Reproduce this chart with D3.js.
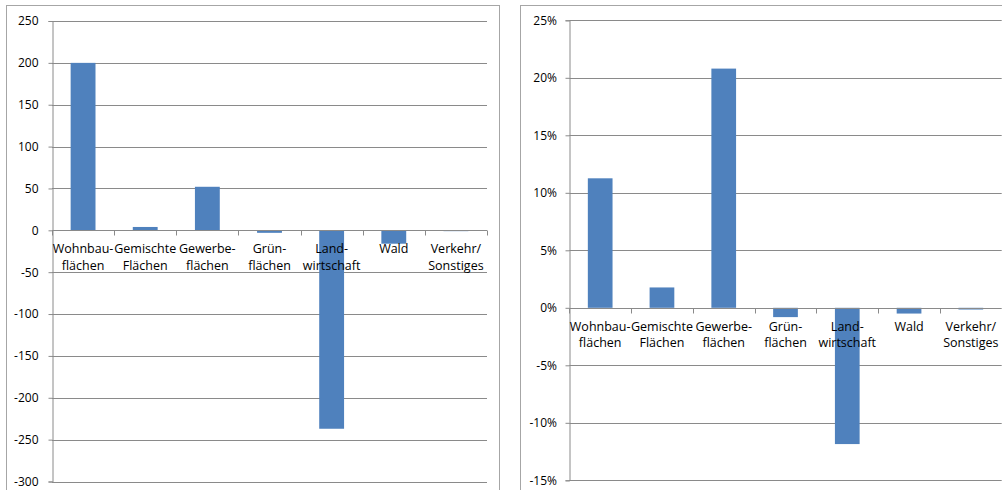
<!DOCTYPE html>
<html>
<head>
<meta charset="utf-8">
<script src="https://cdn.jsdelivr.net/npm/d3@7"></script>
<style>
  html, body { margin: 0; padding: 0; background: #fff; }
  svg { display: block; }
  text { font-family: "Open Sans", "Liberation Sans", sans-serif; font-size: 12px; fill: #000; }
</style>
</head>
<body>
<svg id="chart" width="1002" height="490"></svg>
<script>
// ---- data ----
const categories = [
  ["Wohnbau-", "flächen"],
  ["Gemischte", "Flächen"],
  ["Gewerbe-", "flächen"],
  ["Grün-", "flächen"],
  ["Land-", "wirtschaft"],
  ["Wald"],
  ["Verkehr/", "Sonstiges"]
];
const absoluteValues = [200, 4, 52, -3, -237, -16, -1];
const percentValues = [0.1126, 0.0177, 0.208, -0.0081, -0.1185, -0.005, -0.0015];
const absoluteTicks = [250, 200, 150, 100, 50, 0, -50, -100, -150, -200, -250, -300];
const percentTicks = [0.25, 0.20, 0.15, 0.10, 0.05, 0, -0.05, -0.10, -0.15];
const percentTickLabels = ["25%", "20%", "15%", "10%", "5%", "0%", "-5%", "-10%", "-15%"];

const svg = d3.select("#chart");
const barColor = "#4F81BD";
const gridColor = "#8a8a8a";
const frameColor = "#a6a6a6";

function drawChart(cfg) {
  const g = svg.append("g");
  // frame
  g.append("rect")
    .attr("x", cfg.frame[0] + 0.5).attr("y", cfg.frame[1] + 0.5)
    .attr("width", cfg.frame[2]).attr("height", cfg.frame[3])
    .attr("fill", "none").attr("stroke", frameColor).attr("stroke-width", 1);

  const x = d3.scaleBand()
    .domain(d3.range(categories.length))
    .range([cfg.x0, cfg.x1])
    .paddingInner(0.6).paddingOuter(0.3);
  const y = d3.scaleLinear().domain(cfg.domain).range([cfg.yTop, cfg.yBottom]);

  // gridlines
  g.append("g").selectAll("line")
    .data(cfg.ticks.filter(t => t !== 0))
    .join("line")
    .attr("x1", cfg.x0).attr("x2", cfg.x1)
    .attr("y1", d => Math.round(y(d)) + 0.5).attr("y2", d => Math.round(y(d)) + 0.5)
    .attr("stroke", gridColor).attr("stroke-width", 1);

  // y axis
  const yAxis = d3.axisLeft(y)
    .tickValues(cfg.ticks)
    .tickSize(4).tickPadding(cfg.tickPad)
    .tickFormat((d, i) => cfg.tickLabels[i]);
  const ya = g.append("g")
    .attr("transform", `translate(${Math.round(cfg.x0) + 0.5},0)`)
    .call(yAxis);
  ya.select(".domain").attr("stroke", gridColor);
  ya.selectAll(".tick line").attr("stroke", gridColor);
  ya.selectAll(".tick text")
    .style("font-family", "'Open Sans', sans-serif").style("font-size", "12px").attr("fill", "#000");

  // bars
  g.append("g").selectAll("rect")
    .data(cfg.values)
    .join("rect")
    .attr("x", (d, i) => x(i))
    .attr("width", x.bandwidth())
    .attr("y", d => Math.min(y(d), y(0)))
    .attr("height", d => Math.abs(y(d) - y(0)))
    .attr("fill", barColor);

  // x axis line at zero
  const y0 = Math.round(y(0)) + 0.5;
  g.append("line")
    .attr("x1", cfg.x0).attr("x2", cfg.x1)
    .attr("y1", y0).attr("y2", y0)
    .attr("stroke", gridColor);
  const step = x.step();
  g.append("g").selectAll("line")
    .data(d3.range(categories.length + 1))
    .join("line")
    .attr("x1", i => Math.round(cfg.x0 + i * step) + 0.5)
    .attr("x2", i => Math.round(cfg.x0 + i * step) + 0.5)
    .attr("y1", y0).attr("y2", y0 + 5)
    .attr("stroke", gridColor);

  // category labels
  const labels = g.append("g").selectAll("text")
    .data(categories)
    .join("text")
    .attr("text-anchor", "middle")
    .style("font-size", "12.5px")
    .attr("x", (d, i) => x(i) + x.bandwidth() / 2)
    .attr("y", y(0) + 23);
  labels.selectAll("tspan")
    .data(d => d)
    .join("tspan")
    .attr("x", function () { return d3.select(this.parentNode).attr("x"); })
    .attr("dy", (d, i) => i === 0 ? 0 : 16.5)
    .text(d => d);
}

drawChart({
  frame: [6, 5, 493, 500],
  x0: 52, x1: 487,
  yTop: 21, yBottom: 481.5,
  domain: [250, -300],
  ticks: absoluteTicks,
  tickLabels: absoluteTicks.map(String),
  tickPad: 10,
  values: absoluteValues
});

drawChart({
  frame: [520, 5, 500, 500],
  x0: 569.3, x1: 1001.7,
  yTop: 20.3, yBottom: 480.3,
  domain: [0.25, -0.15],
  ticks: percentTicks,
  tickLabels: percentTickLabels,
  tickPad: 8.5,
  values: percentValues
});
</script>
</body>
</html>
